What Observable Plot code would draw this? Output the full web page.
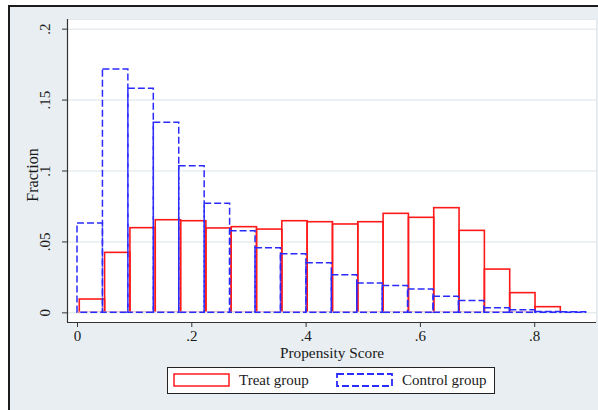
<!DOCTYPE html>
<html>
<head>
<meta charset="utf-8">
<script src="https://cdn.jsdelivr.net/npm/d3@7"></script>
<script src="https://cdn.jsdelivr.net/npm/@observablehq/plot@0.6"></script>
<style>
  html, body { margin: 0; padding: 0; background: #ffffff; }
  #wrap { position: relative; width: 598px; height: 410px; overflow: hidden; font-family: "Liberation Serif", "DejaVu Serif", serif; }
  #bg { position: absolute; left: 8px; top: 5px; width: 620px; height: 430px; background: #e8eef1; border-left: 2px solid #1c1c1c; border-top: 2px solid #1c1c1c; }
  #chart { position: relative; }
  #legend { position: relative; margin-left: 167px; margin-top: 5px; width: 326px; height: 25px; background: #fff; border: 1px solid #222; font-size: 15px; color: #1a1a1a; }
  #legend .sw { position: absolute; top: 5px; display: block; }
  #legend .lab { position: absolute; top: 3px; line-height: 18px; white-space: nowrap; }
</style>
</head>
<body>
<div id="wrap">
  <div id="bg"></div>
  <div id="chart"></div>
  <div id="legend"></div>
</div>
<script>
// Bin edges (propensity score)
const treatEdges = [0.004, 0.0483, 0.0926, 0.1369, 0.1812, 0.2255, 0.2698, 0.3141, 0.3584, 0.4027, 0.447, 0.4913, 0.5356, 0.5799, 0.6242, 0.6685, 0.7128, 0.7571, 0.8014, 0.8457];
const controlEdges = [0, 0.0445, 0.089, 0.1335, 0.178, 0.2225, 0.267, 0.3115, 0.356, 0.4005, 0.445, 0.4895, 0.534, 0.5785, 0.623, 0.6675, 0.712, 0.7565, 0.801, 0.8455, 0.89];
// Fractions
const treatValues = [0.0094, 0.0423, 0.0597, 0.0653, 0.0646, 0.0595, 0.0604, 0.0587, 0.0646, 0.0639, 0.0623, 0.0639, 0.0698, 0.067, 0.0738, 0.0578, 0.0305, 0.0139, 0.004];
const controlValues = [0.063, 0.1716, 0.158, 0.134, 0.1034, 0.077, 0.0575, 0.0456, 0.0413, 0.035, 0.0265, 0.0207, 0.019, 0.0165, 0.0113, 0.0083, 0.0033, 0.0019, 0.0006, 0.0004];
const xTicks = [0, 0.2, 0.4, 0.6, 0.8];
const yTicks = [0, 0.05, 0.1, 0.15, 0.2];
const seriesNames = ["Treat group", "Control group"];
const xLabel = "Propensity Score";
const yLabel = "Fraction";

const RED = "#ff1a1a", BLUE = "#2b2bff";
const fmt = d => d === 0 ? "0" : String(d).replace(/^0/, "");
const toRows = (edges, vals) => vals.map((v, i) => ({x1: edges[i], x2: edges[i + 1], y: v}));
const treatRows = toRows(treatEdges, treatValues);
const controlRows = toRows(controlEdges, controlValues);

const xDomain = [-0.0175, 0.9081];
const yDomain = [-0.0068, 0.2068];

const plot = Plot.plot({
  width: 598,
  height: 362,
  marginLeft: 67,
  marginRight: 2,
  marginTop: 19,
  marginBottom: 40,
  style: "background: transparent; overflow: visible; font-family: 'Liberation Serif', serif; font-size: 15px; color: #1a1a1a;",
  x: {domain: xDomain},
  y: {domain: yDomain},
  marks: [
    Plot.frame({fill: "#ffffff", stroke: "#e2e9ec"}),
    Plot.ruleY(yTicks, {stroke: "#e6edf0", strokeWidth: 1.5}),
    Plot.rect(treatRows, {x1: "x1", x2: "x2", y1: 0, y2: "y", fill: "none", stroke: RED, strokeWidth: 1.6}),
    Plot.ruleY([0], {x1: treatEdges[0], x2: treatEdges[treatEdges.length - 1], stroke: "#eef2f4", strokeWidth: 2.5}),
    Plot.rect(controlRows, {x1: "x1", x2: "x2", y1: 0, y2: "y", fill: "none", stroke: BLUE, strokeWidth: 1.5, strokeDasharray: "7,3"}),
    Plot.ruleX([xDomain[0]], {stroke: "#333", strokeWidth: 1.2}),
    Plot.ruleY([yDomain[0]], {stroke: "#333", strokeWidth: 1.2}),
    Plot.axisY({ticks: yTicks, tickSize: 5, tickFormat: () => "", label: null, stroke: "#333"}),
    Plot.text(yTicks, {y: d => d, text: fmt, frameAnchor: "left", dx: -22, rotate: -90, textAnchor: "middle", lineAnchor: "middle", fontSize: 15, fill: "#1a1a1a"}),
    Plot.axisX({ticks: xTicks, tickSize: 5, tickPadding: 3, tickFormat: fmt, label: null, fontSize: 15, stroke: "#333", fill: "#1a1a1a"}),
    Plot.text([xLabel], {frameAnchor: "bottom", dy: 31, lineAnchor: "middle", fontSize: 15.3, fill: "#1a1a1a"}),
    Plot.text([yLabel], {frameAnchor: "left", dx: -35, dy: 4, rotate: -90, textAnchor: "middle", lineAnchor: "middle", fontSize: 16, fill: "#1a1a1a"})
  ]
});
document.getElementById("chart").appendChild(plot);

// Legend
const legend = document.getElementById("legend");
const swatch = (color, dashed) => {
  const ns = "http://www.w3.org/2000/svg";
  const s = document.createElementNS(ns, "svg");
  s.setAttribute("width", 58); s.setAttribute("height", 15);
  s.setAttribute("class", "sw");
  const r = document.createElementNS(ns, "rect");
  r.setAttribute("x", 1); r.setAttribute("y", 1); r.setAttribute("width", 55); r.setAttribute("height", 12);
  r.setAttribute("fill", "#fff"); r.setAttribute("stroke", color); r.setAttribute("stroke-width", dashed ? 1.8 : 1.5);
  if (dashed) r.setAttribute("stroke-dasharray", "7,3");
  s.appendChild(r);
  return s;
};
const swLeft = [5, 168], labLeft = [71, 234];
seriesNames.forEach((name, i) => {
  const s = swatch(i === 0 ? RED : BLUE, i === 1);
  s.style.left = swLeft[i] + "px";
  legend.appendChild(s);
  const t = document.createElement("span");
  t.className = "lab";
  t.textContent = name;
  t.style.left = labLeft[i] + "px";
  legend.appendChild(t);
});
</script>
</body>
</html>
